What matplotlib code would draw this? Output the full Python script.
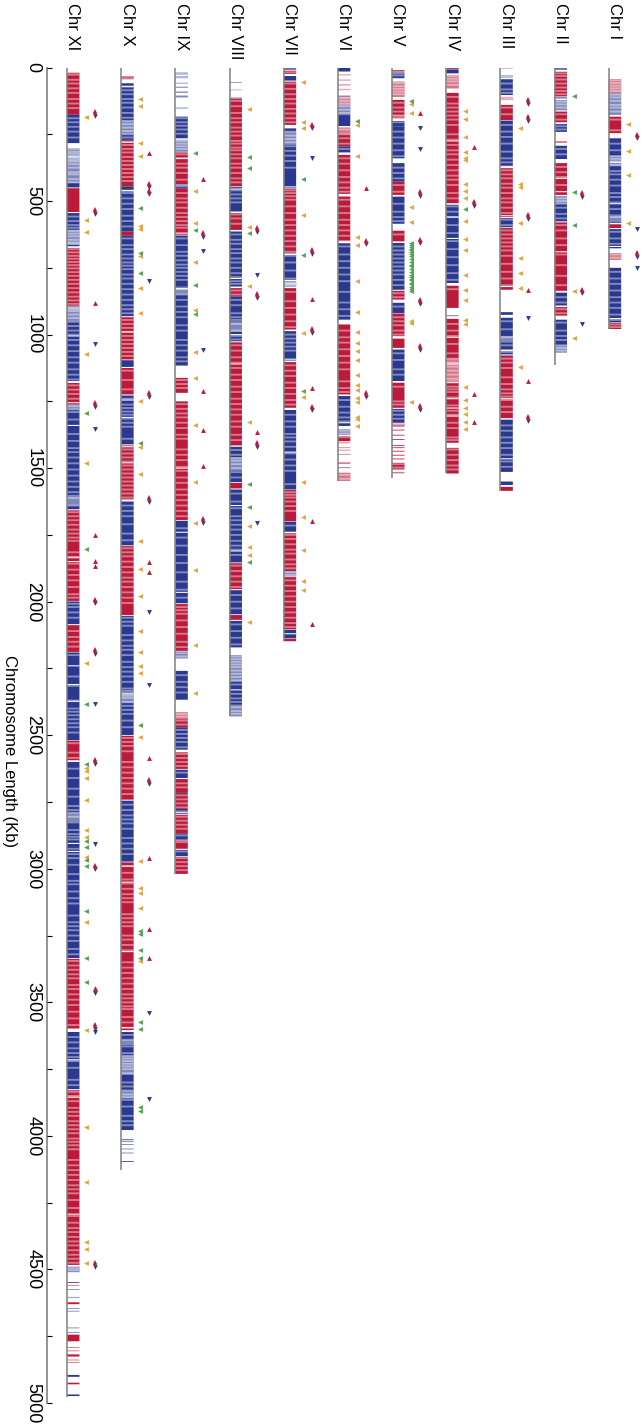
import matplotlib
matplotlib.use('Agg')
import matplotlib.pyplot as plt

plt.rcParams['font.family'] = ['Liberation Sans', 'DejaVu Sans']

# all lists run left to right on the page: Chr XI ... Chr I, positions in Kb
chr_names = ['Chr XI', 'Chr X', 'Chr IX', 'Chr VIII', 'Chr VII', 'Chr VI', 'Chr V', 'Chr IV', 'Chr III', 'Chr II', 'Chr I']
chr_lengths = [4978, 4129, 3019, 2429, 2146, 1548, 1538, 1520, 1585, 1114, 979]

# (start, end, colour) stretches of genes
blocks = [
    # XI
    [(19, 177, 'r'), (177, 283, 'b'), (302, 449, 'b'), (452, 541, 'r'), (545, 670, 'b'), (675, 892, 'r'), (894, 1174, 'b'),
     (1181, 1262, 'r'), (1262, 1654, 'b'), (1658, 1997, 'r'), (1999, 2084, 'b'), (2088, 2188, 'r'), (2190, 2518, 'b'),
     (2520, 2595, 'r'), (2600, 3334, 'b'), (3337, 3598, 'r'), (3611, 3825, 'b'), (3829, 4483, 'r'), (4490, 4510, 'b'),
     (4547, 4550, 'b'), (4558, 4560, 'r'), (4574, 4576, 'b'), (4603, 4605, 'b'), (4623, 4630, 'r'), (4646, 4648, 'b'),
     (4655, 4657, 'b'), (4718, 4720, 'b'), (4735, 4737, 'b'), (4744, 4769, 'r'), (4791, 4793, 'r'), (4804, 4806, 'r'),
     (4818, 4826, 'r'), (4838, 4840, 'r'), (4848, 4850, 'r'), (4895, 4902, 'b'), (4924, 4930, 'r'), (4968, 4974, 'b')],
    # X
    [(32, 44, 'r'), (59, 271, 'b'), (271, 445, 'r'), (445, 458, 'b'), (464, 614, 'b'), (614, 630, 'r'), (630, 931, 'b'),
     (935, 1093, 'r'), (1096, 1121, 'b'), (1125, 1224, 'r'), (1228, 1411, 'b'), (1415, 1617, 'r'), (1625, 1789, 'b'),
     (1792, 2050, 'r'), (2053, 2499, 'b'), (2502, 2741, 'r'), (2745, 2973, 'b'), (2976, 3604, 'r'), (3611, 3978, 'b'),
     (4013, 4016, 'b'), (4021, 4023, 'b'), (4031, 4033, 'b'), (4048, 4050, 'b'), (4063, 4065, 'b'), (4094, 4097, 'b')],
    # IX
    [(19, 40, 'b'), (57, 60, 'b'), (72, 76, 'b'), (90, 95, 'b'), (105, 112, 'b'), (150, 153, 'b'), (184, 265, 'b'),
     (271, 315, 'b'), (318, 437, 'r'), (437, 452, 'b'), (452, 626, 'r'), (629, 1116, 'b'), (1162, 1218, 'r'), (1250, 1694, 'r'),
     (1697, 2006, 'b'), (2009, 2184, 'r'), (2187, 2212, 'b'), (2259, 2367, 'b'), (2414, 2470, 'r'), (2470, 2554, 'b'),
     (2564, 2626, 'r'), (2629, 2660, 'b'), (2664, 2713, 'r'), (2713, 2716, 'b'), (2716, 2776, 'r'), (2776, 2795, 'b'),
     (2798, 2869, 'r'), (2869, 2891, 'b'), (2894, 2925, 'r'), (2929, 2953, 'b'), (2956, 3019, 'r')],
    # VIII
    [(56, 58, 'b'), (83, 85, 'b'), (112, 114, 'b'), (116, 445, 'r'), (448, 539, 'b'), (545, 608, 'r'), (614, 820, 'b'),
     (826, 857, 'r'), (857, 1025, 'b'), (1029, 1415, 'r'), (1420, 1552, 'b'), (1555, 1576, 'r'), (1580, 1853, 'b'),
     (1856, 1953, 'r'), (1957, 2047, 'b'), (2050, 2068, 'r'), (2072, 2171, 'b'), (2200, 2429, 'b')],
    # VII
    [(3, 8, 'b'), (12, 24, 'r'), (32, 49, 'b'), (53, 215, 'r'), (228, 452, 'b'), (454, 695, 'r'), (697, 795, 'b'), (800, 820, 'b'),
     (826, 981, 'r'), (987, 1097, 'b'), (1103, 1274, 'r'), (1280, 1580, 'b'), (1582, 1698, 'r'), (1700, 1739, 'b'),
     (1744, 1885, 'r'), (1886, 1905, 'b'), (1908, 2103, 'r'), (2105, 2118, 'b'), (2122, 2136, 'b'), (2138, 2148, 'r')],
    # VI
    [(0, 15, 'b'), (25, 30, 'r'), (45, 50, 'r'), (62, 68, 'r'), (80, 85, 'r'), (105, 110, 'b'), (112, 140, 'r'), (140, 178, 'b'),
     (178, 219, 'b'), (225, 296, 'r'), (296, 320, 'b'), (327, 473, 'r'), (483, 651, 'r'), (658, 944, 'b'), (962, 1224, 'r'),
     (1230, 1342, 'b'), (1355, 1375, 'b'), (1380, 1399, 'r'), (1404, 1407, 'r'), (1422, 1425, 'r'), (1431, 1434, 'r'),
     (1447, 1450, 'r'), (1478, 1484, 'r'), (1496, 1500, 'r'), (1517, 1548, 'r')],
    # V
    [(10, 15, 'r'), (18, 40, 'b'), (53, 110, 'r'), (121, 177, 'r'), (180, 190, 'r'), (200, 220, 'b'), (220, 340, 'b'),
     (358, 427, 'b'), (427, 477, 'r'), (483, 585, 'b'), (611, 651, 'r'), (657, 832, 'b'), (836, 869, 'r'), (881, 919, 'b'),
     (921, 1006, 'r'), (1015, 1050, 'r'), (1056, 1174, 'b'), (1180, 1274, 'r'), (1278, 1330, 'b'), (1333, 1340, 'r'),
     (1341, 1344, 'r'), (1356, 1359, 'r'), (1375, 1378, 'r'), (1391, 1394, 'r'), (1414, 1417, 'r'), (1422, 1425, 'r'),
     (1435, 1438, 'r'), (1450, 1453, 'r'), (1464, 1467, 'r'), (1480, 1505, 'r'), (1516, 1519, 'r')],
    # IV
    [(0, 5, 'r'), (7, 22, 'b'), (28, 78, 'r'), (95, 508, 'r'), (514, 807, 'b'), (817, 900, 'r'), (928, 931, 'b'),
     (941, 1405, 'r'), (1424, 1520, 'r')],
    # III
    [(0, 3, 'b'), (28, 38, 'b'), (44, 103, 'b'), (110, 122, 'r'), (140, 197, 'r'), (199, 371, 'b'), (377, 560, 'r'),
     (564, 598, 'b'), (601, 832, 'r'), (916, 926, 'b'), (934, 1056, 'b'), (1060, 1074, 'b'), (1078, 1315, 'r'),
     (1318, 1514, 'b'), (1550, 1563, 'b'), (1570, 1585, 'r')],
    # II
    [(3, 8, 'b'), (16, 108, 'r'), (110, 160, 'b'), (165, 205, 'r'), (212, 241, 'b'), (277, 281, 'r'), (293, 343, 'b'),
     (358, 477, 'r'), (482, 576, 'b'), (580, 840, 'r'), (843, 891, 'b'), (896, 929, 'r'), (944, 1068, 'b')],
    # I
    [(43, 96, 'r'), (96, 177, 'b'), (184, 246, 'r'), (265, 582, 'b'), (585, 601, 'r'), (605, 677, 'b'), (695, 720, 'r'),
     (750, 954, 'b'), (956, 979, 'r')],
]

# washed-out stretches
pale_zones = [
    [(302, 433), (607, 664), (894, 950), (1262, 1280), (1600, 1640), (2790, 2830), (4490, 4510)],
    [(199, 250), (2330, 2380), (3640, 3660), (3700, 3772), (3830, 3860)],
    [(19, 153), (271, 315), (820, 850), (2190, 2212), (2414, 2440)],
    [(56, 114), (950, 990), (1460, 1510), (2200, 2300), (2385, 2429)],
    [(240, 290), (800, 820), (1886, 1905)],
    [(25, 110), (112, 178), (225, 250), (1355, 1375), (1404, 1548)],
    [(53, 110)],
    [(28, 78), (928, 931), (1090, 1175)],
    [(28, 38), (110, 122), (1005, 1030)],
    [(110, 160), (482, 510), (1040, 1068)],
    [(43, 96), (96, 177), (330, 370), (550, 580), (695, 720)],
]

# pale stripes within the stretches
pale_bands = [
    # XI
    [19, 27, 46, 60, 78, 95, 118, 135, 152, 190, 205, 222, 240, 262, 305, 315, 322, 330, 338, 346, 352, 362, 375, 392, 400, 418, 430,
     558, 575, 590, 600, 612, 622, 632, 645, 655, 660, 680, 692, 705, 716, 728, 740, 752, 766, 780, 795, 810, 826, 842, 858, 872, 885,
     900, 905, 912, 925, 938, 952, 968, 985, 1000, 1020, 1040, 1062, 1085, 1105, 1130, 1150, 1168, 1190, 1206, 1222, 1240, 1268, 1280,
     1290, 1318, 1372, 1398, 1425, 1440, 1460, 1482, 1505, 1528, 1550, 1570, 1590, 1612, 1640, 1665, 1680, 1695, 1712, 1730, 1745, 1760,
     1772, 1815, 1835, 1858, 1880, 1900, 1920, 1945, 1972, 1985, 2008, 2020, 2040, 2060, 2110, 2132, 2150, 2168, 2200, 2280, 2315, 2370,
     2400, 2412, 2425, 2440, 2455, 2470, 2490, 2530, 2565, 2585, 2625, 2660, 2700, 2730, 2765, 2780, 2790, 2805, 2855, 2870, 2880, 2890,
     2925, 2945, 2960, 2985, 3020, 3045, 3058, 3085, 3110, 3130, 3175, 3200, 3215, 3230, 3250, 3270, 3300, 3320, 3345, 3362, 3378, 3395,
     3410, 3435, 3450, 3470, 3490, 3510, 3535, 3560, 3585, 3630, 3650, 3672, 3690, 3705, 3720, 3745, 3790, 3810, 3835, 3850, 3870, 3895,
     3910, 3925, 3945, 3960, 3975, 3990, 4010, 4022, 4035, 4050, 4090, 4110, 4128, 4146, 4165, 4185, 4200, 4215, 4240, 4270, 4300, 4325,
     4345, 4360, 4378, 4395, 4410, 4428, 4445, 4460, 4475, 4496, 4503],
    # X
    [34, 41, 70, 85, 100, 118, 132, 150, 170, 188, 200, 212, 225, 238, 250, 262, 278, 290, 305, 318, 335, 350, 365, 380, 395, 410, 425,
     470, 490, 510, 530, 555, 575, 595, 640, 665, 680, 700, 715, 730, 742, 755, 775, 790, 810, 830, 850, 870, 890, 905, 920, 945, 960,
     975, 990, 1005, 1020, 1035, 1050, 1065, 1080, 1135, 1170, 1205, 1240, 1262, 1275, 1288, 1300, 1315, 1330, 1345, 1390, 1430, 1445,
     1460, 1475, 1490, 1505, 1520, 1535, 1550, 1565, 1580, 1595, 1610, 1640, 1660, 1680, 1710, 1745, 1770, 1800, 1815, 1830, 1850, 1870,
     1890, 1910, 1925, 1945, 1965, 1985, 2005, 2060, 2075, 2090, 2125, 2145, 2165, 2180, 2200, 2225, 2245, 2262, 2280, 2300, 2325, 2352,
     2360, 2375, 2390, 2405, 2420, 2445, 2470, 2510, 2525, 2540, 2560, 2600, 2620, 2640, 2660, 2680, 2700, 2720, 2760, 2780, 2800, 2815,
     2830, 2850, 2885, 2905, 2925, 2945, 2990, 3015, 3040, 3055, 3075, 3095, 3110, 3125, 3170, 3185, 3200, 3215, 3250, 3265, 3285, 3305,
     3350, 3370, 3390, 3410, 3430, 3450, 3470, 3485, 3500, 3515, 3525, 3555, 3575, 3595, 3622, 3640, 3665, 3690, 3700, 3710, 3720, 3730,
     3740, 3750, 3765, 3800, 3815, 3830, 3845, 3855, 3865, 3890, 3925, 3945, 3960],
    # IX
    [22, 28, 36, 190, 205, 218, 232, 248, 275, 285, 295, 305, 325, 340, 360, 375, 395, 420, 440, 445, 470, 490, 505, 525, 545, 560, 575,
     590, 600, 640, 665, 690, 705, 722, 738, 750, 765, 780, 795, 830, 850, 870, 895, 915, 935, 965, 985, 1020, 1040, 1060, 1085, 1100,
     1170, 1185, 1200, 1260, 1278, 1295, 1310, 1330, 1350, 1375, 1390, 1430, 1450, 1470, 1495, 1510, 1535, 1555, 1580, 1600, 1620, 1640,
     1660, 1680, 1725, 1760, 1790, 1825, 1855, 1890, 1925, 1955, 1985, 2020, 2032, 2045, 2070, 2095, 2120, 2150, 2170, 2192, 2205, 2275,
     2300, 2320, 2340, 2420, 2430, 2445, 2460, 2480, 2495, 2510, 2525, 2545, 2570, 2585, 2600, 2615, 2640, 2680, 2695, 2725, 2740, 2755,
     2770, 2785, 2805, 2820, 2835, 2850, 2875, 2900, 2935, 2960, 2975, 2990, 3005],
    # VIII
    [125, 145, 170, 190, 205, 225, 240, 255, 275, 285, 300, 310, 325, 340, 360, 375, 395, 415, 430, 460, 475, 490, 505, 550, 565, 585,
     625, 645, 660, 680, 695, 715, 730, 750, 770, 785, 800, 810, 835, 850, 870, 890, 920, 935, 945, 960, 985, 1005, 1018, 1040, 1060,
     1085, 1105, 1125, 1150, 1170, 1195, 1215, 1240, 1260, 1280, 1300, 1325, 1345, 1375, 1395, 1432, 1450, 1462, 1472, 1485, 1500, 1515,
     1535, 1595, 1625, 1650, 1680, 1695, 1712, 1730, 1750, 1772, 1790, 1805, 1825, 1865, 1885, 1905, 1925, 1945, 1975, 2000, 2025, 2085,
     2110, 2135, 2160, 2205, 2215, 2225, 2235, 2245, 2258, 2270, 2282, 2295, 2310, 2345, 2362, 2375, 2395, 2410, 2420],
    # VII
    [18, 60, 80, 100, 118, 135, 155, 172, 190, 205, 240, 255, 268, 280, 295, 312, 330, 350, 375, 460, 470, 482, 495, 520, 545, 570, 590,
     610, 630, 650, 670, 690, 705, 730, 760, 790, 805, 815, 840, 875, 900, 925, 950, 972, 1000, 1015, 1030, 1045, 1060, 1115, 1135, 1155,
     1180, 1200, 1222, 1245, 1262, 1300, 1325, 1345, 1372, 1385, 1400, 1420, 1445, 1468, 1490, 1510, 1560, 1590, 1600, 1610, 1625, 1642,
     1660, 1715, 1750, 1765, 1785, 1805, 1820, 1842, 1860, 1875, 1890, 1900, 1920, 1940, 1960, 1980, 2000, 2020, 2040, 2060, 2080, 2095],
    # VI
    [28, 48, 65, 83, 115, 125, 135, 145, 158, 170, 232, 250, 265, 285, 305, 340, 360, 385, 410, 430, 450, 465, 495, 520, 545, 570, 590,
     610, 630, 670, 700, 725, 750, 775, 800, 840, 880, 905, 930, 985, 1010, 1030, 1055, 1080, 1105, 1130, 1175, 1200, 1215, 1245, 1270,
     1292, 1310, 1325, 1360, 1370, 1384, 1525, 1540],
    # V
    [22, 30, 58, 70, 80, 90, 100, 132, 150, 165, 185, 205, 240, 262, 285, 310, 332, 375, 395, 415, 440, 465, 510, 540, 560, 575, 625,
     670, 685, 700, 715, 730, 745, 760, 775, 795, 815, 845, 860, 895, 935, 950, 965, 985, 1000, 1070, 1095, 1130, 1150, 1195, 1250,
     1262, 1285, 1300, 1315, 1485, 1498],
    # IV
    [32, 42, 52, 65, 110, 135, 150, 165, 180, 195, 215, 250, 270, 290, 310, 325, 345, 365, 385, 405, 420, 440, 470, 490, 520, 540, 560,
     590, 620, 650, 680, 710, 740, 770, 795, 830, 960, 985, 1005, 1035, 1070, 1090, 1105, 1120, 1135, 1150, 1165, 1175, 1195, 1205, 1215,
     1235, 1265, 1285, 1300, 1330, 1350, 1385, 1395, 1430, 1450, 1470, 1490, 1505],
    # III
    [30, 35, 60, 82, 95, 112, 118, 150, 175, 215, 240, 260, 285, 315, 340, 355, 385, 400, 415, 435, 450, 470, 490, 505, 525, 545, 570,
     590, 610, 625, 640, 655, 670, 685, 705, 735, 765, 790, 815, 950, 980, 1010, 1040, 1065, 1090, 1105, 1125, 1160, 1185, 1205, 1220,
     1232, 1245, 1270, 1290, 1340, 1360, 1385, 1405, 1425, 1450, 1475, 1495],
    # II
    [22, 32, 45, 60, 75, 88, 100, 118, 128, 138, 150, 175, 195, 220, 232, 305, 325, 372, 392, 410, 440, 490, 500, 510, 525, 548, 565,
     590, 610, 640, 665, 700, 740, 780, 815, 860, 880, 905, 920, 955, 985, 1005, 1020, 1040, 1050, 1060],
    # I
    [48, 58, 68, 78, 88, 102, 112, 125, 140, 150, 165, 195, 235, 285, 310, 332, 342, 352, 365, 388, 400, 420, 442, 470, 485, 505, 530,
     560, 615, 640, 660, 700, 712, 765, 790, 810, 835, 860, 880, 900, 925, 945, 962, 972],
]

# thin white gaps
gap_bands = [
    [335, 672, 1005, 1255, 1340, 1833, 1850, 2240, 2310, 2373, 2596, 2905, 2935, 3715, 3855, 4293],
    [72, 280, 990, 1245, 1310, 1420, 1480, 2345, 2990, 3050, 3310, 3595, 4200],
    [30, 340, 620, 828, 1230, 1500, 1740, 1965, 2560, 2790],
    [455, 790, 1000, 1110, 1640, 1810, 2180, 2190, 2330],
    [220, 447, 700, 810, 1092, 1280, 1440, 1740],
    [320, 478, 650, 950, 1330, 1378],
    [118, 196, 345, 350, 480, 1010, 1052, 1176, 1335],
    [90, 275, 560, 640, 810, 1010, 1110, 1180, 1240, 1275, 1305],
    [130, 370, 555, 820, 935, 1060, 1240, 1315, 1465],
    [120, 345, 415, 465, 690, 838, 895, 940, 1070],
    [180, 250, 355, 510, 585, 670, 690, 745, 940],
]

orange_marks = [
    [185, 570, 615, 1071, 1481, 2231, 2621, 2635, 2661, 2743, 2855, 2882, 2954, 3198, 3603, 3968, 4174, 4396, 4423, 4476],
    [119, 143, 282, 330, 593, 605, 707, 826, 919, 1247, 1421, 1523, 1771, 1876, 1978, 2109, 2188, 2241, 2266, 2507, 2969, 3072, 3091, 3145, 3345],
    [462, 582, 730, 908, 1066, 1161, 1338, 1551, 1706, 1882, 2161, 2340],
    [156, 598, 818, 1329, 1718, 1797, 1827, 2077],
    [56, 204, 227, 553, 994, 1232, 1551, 1683, 1805, 1923, 1958],
    [215, 333, 634, 666, 799, 916, 990, 1033, 1060, 1096, 1151, 1189, 1207, 1237, 1254, 1309, 1315, 1342],
    [138, 171, 521, 579, 950, 958, 1253],
    [161, 193, 260, 318, 339, 347, 438, 463, 488, 575, 641, 683, 776, 832, 869, 944, 959, 1195, 1243, 1274, 1296, 1328, 1354],
    [226, 437, 449, 581, 712, 771, 824, 1121],
    [836, 1013],
    [212, 311, 403, 582],
]
green_marks = [
    [1293, 1804, 2383, 2608, 2897, 2917, 2966, 2991, 3158, 3333, 3425],
    [525, 693, 769, 1406, 2463, 3234, 3243, 3303, 3333, 3572, 3598, 3892, 3906],
    [320, 609, 816, 923],
    [336, 378, 618, 1561, 1645, 1850],
    [418, 701, 1211],
    [199],
    [126, 657, 664, 671, 678, 685, 692, 700, 707, 716, 728, 738, 745, 755, 765, 775, 783, 790, 797, 805, 812, 820, 828, 835],
    [531],
    [],
    [108, 465, 591],
    [],
]
red_marks = [
    [883, 1750, 1847, 1867, 3445],
    [320, 1852, 1890, 2584, 2959, 3224, 3333],
    [418, 1213, 1359, 1491],
    [1366],
    [868, 1201, 1697, 2084],
    [450],
    [171],
    [296, 1223, 1328],
    [833, 1173],
    [],
    [],
]
blue_marks = [
    [1034, 1355, 2383, 2907, 3465, 3611],
    [799, 2037, 2313, 3541, 3861],
    [686, 1059],
    [778, 1706],
    [340],
    [],
    [226, 306],
    [],
    [936],
    [961],
    [606, 752],
]
# red and blue together
both_marks = [
    [175, 541, 1263, 1999, 2189, 2599, 2995, 3592, 4483],
    [442, 468, 1226, 1619, 2674],
    [628, 1697],
    [609, 855, 1412],
    [221, 691, 986, 1277],
    [655, 1225],
    [474, 651, 878, 1050, 1274],
    [511],
    [129, 193, 559, 1315],
    [477, 838],
    [258, 703],
]

RED = '#bb1a3a'
BLUE = '#2a3890'
ORANGE = '#e5a33c'
GREEN = '#4fa552'
GRAY = '#808080'

bar_w = 0.23
track1 = 0.356
track2 = 0.516

fig = plt.figure(figsize=(6.43, 14.25), dpi=100)
ax = fig.add_axes([47 / 643, 1 - 1403 / 1425, (640 - 47) / 643, (1403 - 67.5) / 1425])
ax.set_xlim(-20 / 54.17, 573 / 54.17)
ax.set_ylim(5000, 0)

for i, name in enumerate(chr_names):
    # gene stretches
    reds = [b for b in blocks[i] if b[2] == 'r']
    blues = [b for b in blocks[i] if b[2] == 'b']
    for group, col in ((reds, RED), (blues, BLUE)):
        ax.barh([b[0] for b in group], bar_w, height=[b[1] - b[0] for b in group], left=i,
                align='edge', color=col, linewidth=0, zorder=2, snap=False)
    ax.barh([z[0] for z in pale_zones[i]], bar_w, height=[z[1] - z[0] for z in pale_zones[i]], left=i,
            align='edge', color='white', alpha=0.4, linewidth=0, zorder=3, snap=False)
    ax.barh(pale_bands[i], bar_w, height=7, left=i, color='white', alpha=0.42, linewidth=0, zorder=3, snap=False)
    ax.barh(gap_bands[i], bar_w, height=4, left=i, color='white', linewidth=0, zorder=3, snap=False)

    ax.plot([i, i], [0, chr_lengths[i]], color=GRAY, lw=1.1, zorder=4, solid_capstyle='butt')

    ax.text(i + 0.11, -241, name, rotation=-90, ha='center', va='top', fontsize=12, clip_on=False)

    # markers
    ax.plot([i + track1] * len(orange_marks[i]), orange_marks[i], '<', color=ORANGE, ms=3.5, mew=0, zorder=5)
    ax.plot([i + track1] * len(green_marks[i]), green_marks[i], '<', color=GREEN, ms=3.5, mew=0, zorder=5)
    ax.plot([i + track2] * len(red_marks[i]), red_marks[i], '^', color=RED, ms=3.5, mew=0, zorder=5)
    ax.plot([i + track2] * len(blue_marks[i]), blue_marks[i], 'v', color=BLUE, ms=3.5, mew=0, zorder=5)
    ax.plot([i + track2] * len(both_marks[i]), [k + 7 for k in both_marks[i]], 'v', color=BLUE, ms=3.3, mew=0, zorder=5)
    ax.plot([i + track2] * len(both_marks[i]), [k - 3 for k in both_marks[i]], 'd', color=RED, ms=3.6, mew=0, zorder=6)

for s in ('top', 'right', 'bottom'):
    ax.spines[s].set_visible(False)
ax.spines['left'].set_color(GRAY)
ax.spines['left'].set_linewidth(1.2)
ax.spines['left'].set_zorder(1)

ax.set_xticks([])
ax.set_yticks(range(0, 5001, 500))
ax.set_yticks(range(250, 5000, 500), minor=True)
ax.tick_params(axis='y', which='both', direction='in', length=3.6, width=0.8, color='black')
ax.tick_params(axis='y', which='major', labelsize=13, labelrotation=-90, pad=4)
for lab in ax.get_yticklabels():
    lab.set_va('center')

ax.text(-1.07, 2559, 'Chromosome Length (Kb)', rotation=-90, ha='center', va='center', fontsize=12, clip_on=False)

fig.savefig('out.png', dpi=100)
